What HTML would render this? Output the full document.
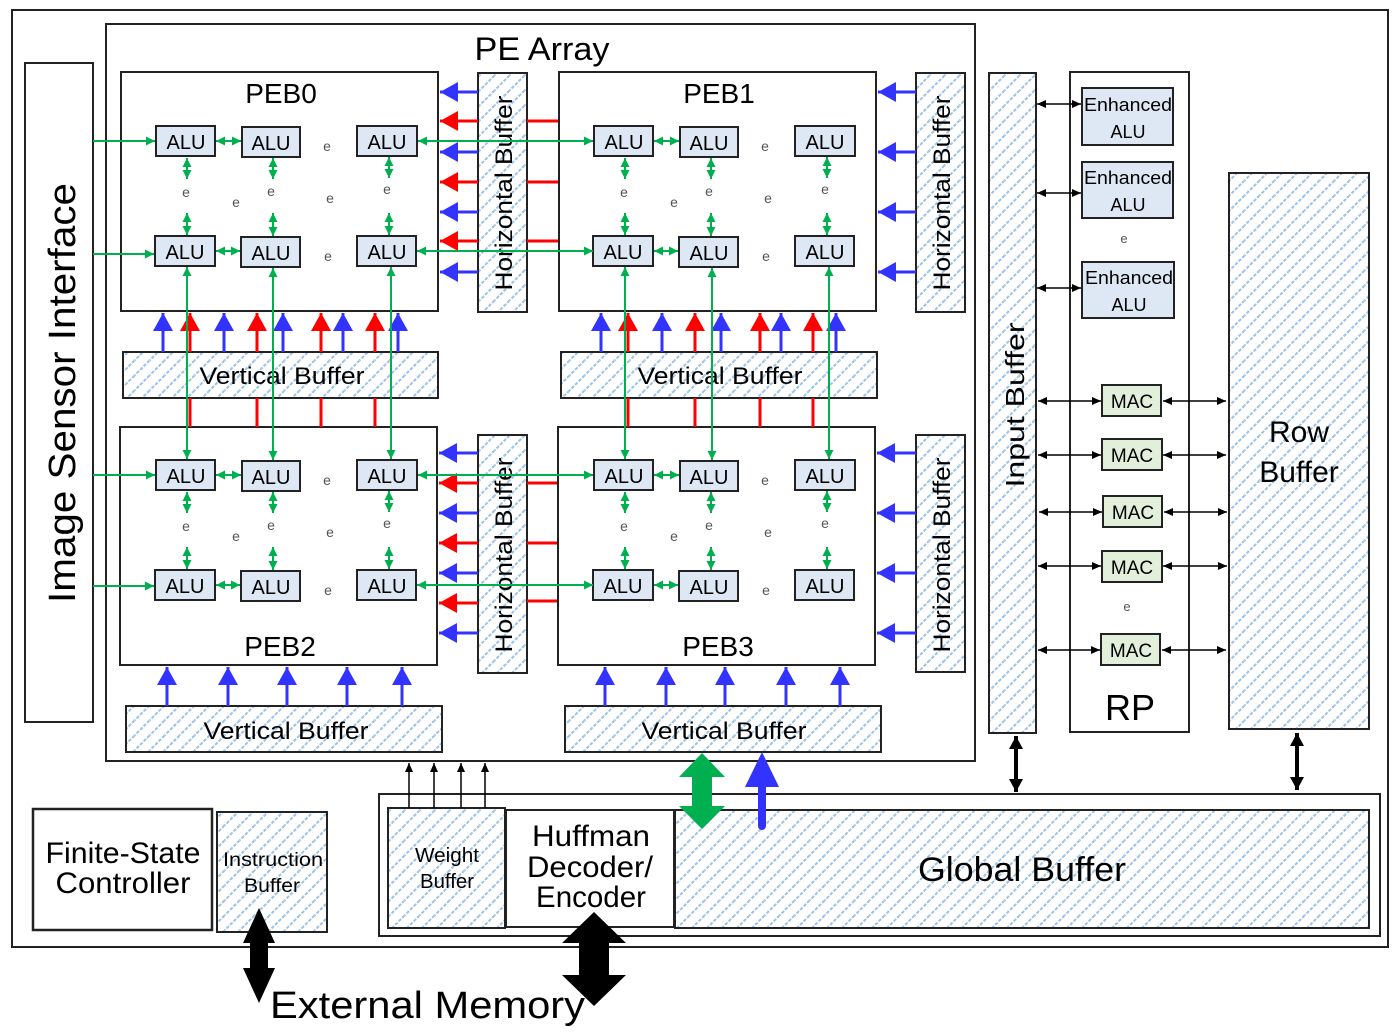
<!DOCTYPE html>
<html><head><meta charset="utf-8"><style>
html,body{margin:0;padding:0;background:#fff;}
svg{display:block;font-family:"Liberation Sans",sans-serif;}
</style></head><body>
<svg width="1400" height="1035" viewBox="0 0 1400 1035" xmlns="http://www.w3.org/2000/svg">
<defs>
<pattern id="h" patternUnits="userSpaceOnUse" width="15" height="15">
<path d="M-2,17 L17,-2 M-2,2 L2,-2 M13,17 L17,13" stroke="#9dc3e6" stroke-width="2" stroke-dasharray="3.5,1.5"/>
</pattern>
<marker id="g" markerUnits="userSpaceOnUse" markerWidth="10" markerHeight="10" refX="9" refY="5" orient="auto-start-reverse"><path d="M0,0.5 L9,5 L0,9.5 z" fill="#00b050"/></marker>
<marker id="k" markerUnits="userSpaceOnUse" markerWidth="10" markerHeight="10" refX="9" refY="5" orient="auto-start-reverse"><path d="M0,1 L9,5 L0,9 z" fill="#000"/></marker>
<marker id="kb" markerUnits="userSpaceOnUse" markerWidth="14" markerHeight="16" refX="13" refY="8" orient="auto-start-reverse"><path d="M0,1 L13,8 L0,15 z" fill="#000"/></marker>
<marker id="b" markerUnits="userSpaceOnUse" markerWidth="20" markerHeight="22" refX="18" refY="11" orient="auto"><path d="M0,1 L18,11 L0,21 z" fill="#3333ff"/></marker>
<marker id="r" markerUnits="userSpaceOnUse" markerWidth="20" markerHeight="22" refX="18" refY="11" orient="auto"><path d="M0,1 L18,11 L0,21 z" fill="#ff0000"/></marker>
</defs>

<rect x="12" y="10" width="1376" height="937" fill="#fff" stroke="#222" stroke-width="2"/>
<rect x="25" y="63" width="68" height="659" fill="#fff" stroke="#222" stroke-width="2"/>
<text x="0" y="0" transform="translate(75,393) rotate(-90)" font-size="38" text-anchor="middle" textLength="420" lengthAdjust="spacingAndGlyphs">Image Sensor Interface</text>
<rect x="106" y="24" width="869" height="737" fill="#fff" stroke="#222" stroke-width="2"/>
<text x="542" y="60" font-size="32" text-anchor="middle" textLength="135" lengthAdjust="spacingAndGlyphs">PE Array</text>

<g fill="#fff" stroke="#222" stroke-width="2">
<rect x="121" y="72" width="317" height="239"/>
<rect x="559" y="72" width="317" height="239"/>
<rect x="120" y="427" width="317" height="238"/>
<rect x="558" y="427" width="317" height="238"/>
</g>
<g font-size="28" text-anchor="middle">
<text x="281" y="103">PEB0</text><text x="719" y="103">PEB1</text>
<text x="280" y="656">PEB2</text><text x="718" y="656">PEB3</text>
</g>

<g fill="url(#h)" stroke="#222" stroke-width="2">
<rect x="478" y="73" width="49" height="239"/>
<rect x="916" y="73" width="49" height="239"/>
<rect x="478" y="435" width="49" height="238"/>
<rect x="916" y="435" width="49" height="237"/>
<rect x="123" y="352" width="315" height="46"/>
<rect x="561" y="352" width="316" height="46"/>
<rect x="126" y="706" width="316" height="46"/>
<rect x="565" y="706" width="316" height="46"/>
</g>
<g font-size="24" text-anchor="middle">
<text transform="translate(512,193) rotate(-90)" textLength="195" lengthAdjust="spacingAndGlyphs">Horizontal Buffer</text>
<text transform="translate(950,193) rotate(-90)" textLength="195" lengthAdjust="spacingAndGlyphs">Horizontal Buffer</text>
<text transform="translate(512,555) rotate(-90)" textLength="195" lengthAdjust="spacingAndGlyphs">Horizontal Buffer</text>
<text transform="translate(950,555) rotate(-90)" textLength="195" lengthAdjust="spacingAndGlyphs">Horizontal Buffer</text>
<text x="282" y="384" textLength="165" lengthAdjust="spacingAndGlyphs">Vertical Buffer</text>
<text x="720" y="384" textLength="165" lengthAdjust="spacingAndGlyphs">Vertical Buffer</text>
<text x="286" y="739" textLength="165" lengthAdjust="spacingAndGlyphs">Vertical Buffer</text>
<text x="724" y="739" textLength="165" lengthAdjust="spacingAndGlyphs">Vertical Buffer</text>
</g>

<g stroke-width="3">
<g stroke="#3333ff" marker-end="url(#b)">
<line x1="478" y1="92" x2="440" y2="92"/><line x1="478" y1="152" x2="440" y2="152"/><line x1="478" y1="212" x2="440" y2="212"/><line x1="478" y1="272" x2="440" y2="272"/>
<line x1="916" y1="92" x2="878" y2="92"/><line x1="916" y1="152" x2="878" y2="152"/><line x1="916" y1="212" x2="878" y2="212"/><line x1="916" y1="272" x2="878" y2="272"/>
<line x1="478" y1="453" x2="439" y2="453"/><line x1="478" y1="513" x2="439" y2="513"/><line x1="478" y1="573" x2="439" y2="573"/><line x1="478" y1="633" x2="439" y2="633"/>
<line x1="916" y1="453" x2="877" y2="453"/><line x1="916" y1="513" x2="877" y2="513"/><line x1="916" y1="573" x2="877" y2="573"/><line x1="916" y1="633" x2="877" y2="633"/>
</g>
<g stroke="#ff0000" marker-end="url(#r)">
<line x1="478" y1="121" x2="440" y2="121"/><line x1="478" y1="182" x2="440" y2="182"/><line x1="478" y1="241" x2="440" y2="241"/>
<line x1="478" y1="483" x2="439" y2="483"/><line x1="478" y1="543" x2="439" y2="543"/><line x1="478" y1="603" x2="439" y2="603"/>
</g>
<g stroke="#ff0000">
<line x1="527" y1="121" x2="558" y2="121"/><line x1="527" y1="182" x2="558" y2="182"/><line x1="527" y1="241" x2="558" y2="241"/>
<line x1="527" y1="483" x2="557" y2="483"/><line x1="527" y1="543" x2="557" y2="543"/><line x1="527" y1="601" x2="557" y2="601"/>
<line x1="190" y1="398" x2="190" y2="427"/><line x1="257" y1="398" x2="257" y2="427"/><line x1="321" y1="398" x2="321" y2="427"/><line x1="375" y1="398" x2="375" y2="427"/>
<line x1="628" y1="398" x2="628" y2="427"/><line x1="695" y1="398" x2="695" y2="427"/><line x1="760" y1="398" x2="760" y2="427"/><line x1="813" y1="398" x2="813" y2="427"/>
</g>
<g stroke="#3333ff" marker-end="url(#b)">
<line x1="163" y1="352" x2="163" y2="313"/><line x1="224" y1="352" x2="224" y2="313"/><line x1="283" y1="352" x2="283" y2="313"/><line x1="343" y1="352" x2="343" y2="313"/><line x1="398" y1="352" x2="398" y2="313"/>
<line x1="601" y1="352" x2="601" y2="313"/><line x1="662" y1="352" x2="662" y2="313"/><line x1="721" y1="352" x2="721" y2="313"/><line x1="781" y1="352" x2="781" y2="313"/><line x1="836" y1="352" x2="836" y2="313"/>
<line x1="167" y1="706" x2="167" y2="667"/><line x1="228" y1="706" x2="228" y2="667"/><line x1="287" y1="706" x2="287" y2="667"/><line x1="347" y1="706" x2="347" y2="667"/><line x1="402" y1="706" x2="402" y2="667"/>
<line x1="605" y1="706" x2="605" y2="667"/><line x1="666" y1="706" x2="666" y2="667"/><line x1="725" y1="706" x2="725" y2="667"/><line x1="786" y1="706" x2="786" y2="667"/><line x1="840" y1="706" x2="840" y2="667"/>
</g>
<g stroke="#ff0000" marker-end="url(#r)">
<line x1="190" y1="352" x2="190" y2="313"/><line x1="257" y1="352" x2="257" y2="313"/><line x1="321" y1="352" x2="321" y2="313"/><line x1="375" y1="352" x2="375" y2="313"/>
<line x1="628" y1="352" x2="628" y2="313"/><line x1="695" y1="352" x2="695" y2="313"/><line x1="760" y1="352" x2="760" y2="313"/><line x1="813" y1="352" x2="813" y2="313"/>
</g>
</g>

<g>
<g fill="#dde8f4" stroke="#222" stroke-width="2">
<rect x="156" y="126" width="59" height="30"/><rect x="242" y="127" width="58" height="30"/><rect x="357" y="126" width="60" height="30"/>
<rect x="155" y="236" width="60" height="30"/><rect x="241" y="237" width="59" height="30"/><rect x="357" y="236" width="59" height="30"/>
</g>
<g stroke="#00b050" stroke-width="2" marker-start="url(#g)" marker-end="url(#g)">
<line x1="216" y1="141" x2="241" y2="141"/><line x1="216" y1="251" x2="240" y2="251"/>
<line x1="187" y1="158" x2="187" y2="179"/><line x1="187" y1="213" x2="187" y2="235"/>
<line x1="273" y1="158" x2="273" y2="179"/><line x1="273" y1="213" x2="273" y2="236"/>
<line x1="389" y1="157" x2="389" y2="178"/><line x1="389" y1="213" x2="389" y2="235"/>
</g>
</g>
<g transform="translate(438,0)">
<g fill="#dde8f4" stroke="#222" stroke-width="2">
<rect x="156" y="126" width="59" height="30"/><rect x="242" y="127" width="58" height="30"/><rect x="357" y="126" width="60" height="30"/>
<rect x="155" y="236" width="60" height="30"/><rect x="241" y="237" width="59" height="30"/><rect x="357" y="236" width="59" height="30"/>
</g>
<g stroke="#00b050" stroke-width="2" marker-start="url(#g)" marker-end="url(#g)">
<line x1="216" y1="141" x2="241" y2="141"/><line x1="216" y1="251" x2="240" y2="251"/>
<line x1="187" y1="158" x2="187" y2="179"/><line x1="187" y1="213" x2="187" y2="235"/>
<line x1="273" y1="158" x2="273" y2="179"/><line x1="273" y1="213" x2="273" y2="236"/>
<line x1="389" y1="157" x2="389" y2="178"/><line x1="389" y1="213" x2="389" y2="235"/>
</g>
</g>
<g transform="translate(0,334)">
<g fill="#dde8f4" stroke="#222" stroke-width="2">
<rect x="156" y="126" width="59" height="30"/><rect x="242" y="127" width="58" height="30"/><rect x="357" y="126" width="60" height="30"/>
<rect x="155" y="236" width="60" height="30"/><rect x="241" y="237" width="59" height="30"/><rect x="357" y="236" width="59" height="30"/>
</g>
<g stroke="#00b050" stroke-width="2" marker-start="url(#g)" marker-end="url(#g)">
<line x1="216" y1="141" x2="241" y2="141"/><line x1="216" y1="251" x2="240" y2="251"/>
<line x1="187" y1="158" x2="187" y2="179"/><line x1="187" y1="213" x2="187" y2="235"/>
<line x1="273" y1="158" x2="273" y2="179"/><line x1="273" y1="213" x2="273" y2="236"/>
<line x1="389" y1="157" x2="389" y2="178"/><line x1="389" y1="213" x2="389" y2="235"/>
</g>
</g>
<g transform="translate(438,334)">
<g fill="#dde8f4" stroke="#222" stroke-width="2">
<rect x="156" y="126" width="59" height="30"/><rect x="242" y="127" width="58" height="30"/><rect x="357" y="126" width="60" height="30"/>
<rect x="155" y="236" width="60" height="30"/><rect x="241" y="237" width="59" height="30"/><rect x="357" y="236" width="59" height="30"/>
</g>
<g stroke="#00b050" stroke-width="2" marker-start="url(#g)" marker-end="url(#g)">
<line x1="216" y1="141" x2="241" y2="141"/><line x1="216" y1="251" x2="240" y2="251"/>
<line x1="187" y1="158" x2="187" y2="179"/><line x1="187" y1="213" x2="187" y2="235"/>
<line x1="273" y1="158" x2="273" y2="179"/><line x1="273" y1="213" x2="273" y2="236"/>
<line x1="389" y1="157" x2="389" y2="178"/><line x1="389" y1="213" x2="389" y2="235"/>
</g>
</g>

<g font-size="20" text-anchor="middle">
<text x="186" y="149">ALU</text><text x="271" y="150">ALU</text><text x="387" y="149">ALU</text>
<text x="185" y="259">ALU</text><text x="271" y="260">ALU</text><text x="387" y="259">ALU</text>
<text x="624" y="149">ALU</text><text x="709" y="150">ALU</text><text x="825" y="149">ALU</text>
<text x="623" y="259">ALU</text><text x="709" y="260">ALU</text><text x="825" y="259">ALU</text>
<text x="186" y="483">ALU</text><text x="271" y="484">ALU</text><text x="387" y="483">ALU</text>
<text x="185" y="593">ALU</text><text x="271" y="594">ALU</text><text x="387" y="593">ALU</text>
<text x="624" y="483">ALU</text><text x="709" y="484">ALU</text><text x="825" y="483">ALU</text>
<text x="623" y="593">ALU</text><text x="709" y="594">ALU</text><text x="825" y="593">ALU</text>
</g>
<g font-size="14" fill="#555" text-anchor="middle">
<text x="327" y="151">e</text><text x="186" y="197">e</text><text x="271" y="196">e</text><text x="387" y="194">e</text><text x="236" y="207">e</text><text x="330" y="203">e</text><text x="328" y="261">e</text>
<text x="765" y="151">e</text><text x="624" y="197">e</text><text x="709" y="196">e</text><text x="825" y="194">e</text><text x="674" y="207">e</text><text x="768" y="203">e</text><text x="766" y="261">e</text>
<text x="327" y="485">e</text><text x="186" y="531">e</text><text x="271" y="530">e</text><text x="387" y="528">e</text><text x="236" y="541">e</text><text x="330" y="537">e</text><text x="328" y="595">e</text>
<text x="765" y="485">e</text><text x="624" y="531">e</text><text x="709" y="530">e</text><text x="825" y="528">e</text><text x="674" y="541">e</text><text x="768" y="537">e</text><text x="766" y="595">e</text>
</g>

<g stroke="#00b050" stroke-width="2" fill="none">
<g marker-end="url(#g)">
<line x1="93" y1="141" x2="155" y2="141"/><line x1="93" y1="254" x2="154" y2="254"/>
<line x1="93" y1="475" x2="155" y2="475"/><line x1="93" y1="586" x2="154" y2="586"/>
</g>
<g marker-start="url(#g)" marker-end="url(#g)">
<line x1="418" y1="141" x2="593" y2="141"/><line x1="417" y1="251" x2="593" y2="251"/>
<line x1="418" y1="475" x2="593" y2="475"/><line x1="417" y1="585" x2="593" y2="585"/>
<line x1="187" y1="267" x2="187" y2="459"/><line x1="273" y1="268" x2="273" y2="460"/><line x1="391" y1="267" x2="391" y2="459"/>
<line x1="625" y1="267" x2="625" y2="459"/><line x1="712" y1="268" x2="712" y2="460"/><line x1="829" y1="267" x2="829" y2="459"/>
</g>
</g>

<rect x="989" y="73" width="47" height="660" fill="url(#h)" stroke="#222" stroke-width="2"/>
<text transform="translate(1024,405) rotate(-90)" font-size="26" text-anchor="middle" textLength="165" lengthAdjust="spacingAndGlyphs">Input Buffer</text>
<rect x="1070" y="72" width="119" height="660" fill="#fff" stroke="#222" stroke-width="2"/>
<rect x="1229" y="173" width="140" height="556" fill="url(#h)" stroke="#222" stroke-width="2"/>
<text x="1299" y="442" font-size="30" text-anchor="middle">Row</text>
<text x="1299" y="482" font-size="30" text-anchor="middle">Buffer</text>
<g fill="#dde8f4" stroke="#222" stroke-width="2">
<rect x="1082" y="88" width="91" height="57"/><rect x="1082" y="162" width="91" height="56"/><rect x="1082" y="262" width="92" height="56"/>
</g>
<g font-size="18" text-anchor="middle">
<text x="1128" y="111" textLength="88" lengthAdjust="spacingAndGlyphs">Enhanced</text><text x="1128" y="138">ALU</text>
<text x="1128" y="184" textLength="88" lengthAdjust="spacingAndGlyphs">Enhanced</text><text x="1128" y="211">ALU</text>
<text x="1129" y="284" textLength="88" lengthAdjust="spacingAndGlyphs">Enhanced</text><text x="1129" y="311">ALU</text>
<text x="1124" y="243" font-size="13" fill="#555">e</text><text x="1127" y="611" font-size="13" fill="#555">e</text>
</g>
<g fill="#e2efda" stroke="#222" stroke-width="2">
<rect x="1102" y="385" width="59" height="31"/><rect x="1102" y="439" width="60" height="31"/><rect x="1103" y="496" width="59" height="31"/><rect x="1102" y="551" width="60" height="31"/><rect x="1101" y="634" width="59" height="31"/>
</g>
<g font-size="19" text-anchor="middle">
<text x="1132" y="408">MAC</text><text x="1132" y="462">MAC</text><text x="1133" y="519">MAC</text><text x="1132" y="574">MAC</text><text x="1131" y="657">MAC</text>
</g>
<text x="1130" y="720" font-size="36" text-anchor="middle">RP</text>
<g stroke="#000" stroke-width="1.5" marker-start="url(#k)" marker-end="url(#k)">
<line x1="1037" y1="104" x2="1081" y2="104"/><line x1="1037" y1="193" x2="1081" y2="193"/><line x1="1037" y1="288" x2="1081" y2="288"/>
<line x1="1038" y1="401" x2="1101" y2="401"/><line x1="1038" y1="455" x2="1101" y2="455"/><line x1="1039" y1="512" x2="1102" y2="512"/><line x1="1038" y1="566" x2="1101" y2="566"/><line x1="1038" y1="650" x2="1100" y2="650"/>
<line x1="1163" y1="401" x2="1226" y2="401"/><line x1="1163" y1="455" x2="1226" y2="455"/><line x1="1164" y1="512" x2="1227" y2="512"/><line x1="1163" y1="566" x2="1227" y2="566"/><line x1="1162" y1="650" x2="1226" y2="650"/>
</g>
<g stroke="#000" stroke-width="4" marker-start="url(#kb)" marker-end="url(#kb)">
<line x1="1016" y1="736" x2="1016" y2="792"/><line x1="1297" y1="733" x2="1297" y2="790"/>
</g>

<rect x="379" y="794" width="1001" height="142" fill="#fff" stroke="#222" stroke-width="2"/>
<rect x="388" y="808" width="117" height="120" fill="url(#h)" stroke="#222" stroke-width="2"/>
<rect x="506" y="810" width="168" height="117" fill="#fff" stroke="#222" stroke-width="2"/>
<rect x="675" y="810" width="694" height="118" fill="url(#h)" stroke="#222" stroke-width="2"/>
<text x="1022" y="881" font-size="34" text-anchor="middle" textLength="208" lengthAdjust="spacingAndGlyphs">Global Buffer</text>
<g font-size="30" text-anchor="middle">
<text x="591" y="846" textLength="118" lengthAdjust="spacingAndGlyphs">Huffman</text>
<text x="590" y="877" textLength="126" lengthAdjust="spacingAndGlyphs">Decoder/</text>
<text x="591" y="907" textLength="110" lengthAdjust="spacingAndGlyphs">Encoder</text>
</g>
<g font-size="20" text-anchor="middle">
<text x="447" y="862" textLength="64" lengthAdjust="spacingAndGlyphs">Weight</text>
<text x="447" y="888" textLength="54" lengthAdjust="spacingAndGlyphs">Buffer</text>
</g>
<g stroke="#000" stroke-width="1.5" marker-end="url(#k)">
<line x1="409" y1="808" x2="409" y2="763"/><line x1="434" y1="808" x2="434" y2="763"/><line x1="461" y1="808" x2="461" y2="763"/><line x1="485" y1="808" x2="485" y2="763"/>
</g>
<polygon points="702,753 725,777 712,777 712,806 725,806 702,829 679,806 692,806 692,777 679,777" fill="#00b050"/>
<polygon points="762,752 779,787 766,787 766,826 758,826 758,787 745,787" fill="#3333ff"/>
<circle cx="762" cy="826" r="4" fill="#3333ff"/>

<rect x="33" y="809" width="179" height="121" fill="#fff" stroke="#222" stroke-width="2.5"/>
<rect x="217" y="812" width="110" height="120" fill="url(#h)" stroke="#222" stroke-width="2"/>
<g font-size="30" text-anchor="middle">
<text x="123" y="863" textLength="155" lengthAdjust="spacingAndGlyphs">Finite-State</text>
<text x="123" y="893" textLength="135" lengthAdjust="spacingAndGlyphs">Controller</text>
</g>
<g font-size="19" text-anchor="middle">
<text x="273" y="866" textLength="100" lengthAdjust="spacingAndGlyphs">Instruction</text>
<text x="272" y="892" textLength="56" lengthAdjust="spacingAndGlyphs">Buffer</text>
</g>
<polygon points="259,908 275,943 268,943 268,968 275,968 259,1003 243,968 250,968 250,943 243,943" fill="#000"/>
<polygon points="594,912 626,943 609,943 609,975 626,975 594,1006 562,975 579,975 579,943 562,943" fill="#000"/>
<text x="270" y="1018" font-size="38" textLength="315" lengthAdjust="spacingAndGlyphs">External Memory</text>
</svg>
</body></html>
